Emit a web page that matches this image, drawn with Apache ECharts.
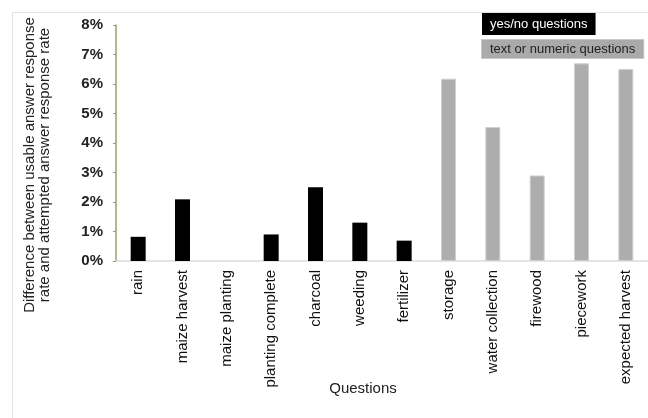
<!DOCTYPE html>
<html><head><meta charset="utf-8">
<script src="https://cdn.jsdelivr.net/npm/echarts@6/dist/echarts.min.js"></script>
<style>html,body{margin:0;padding:0;background:#fff}#c{width:648px;height:418px}</style>
</head><body><div id="c"></div>
<script>
const categories = ['rain','maize harvest','maize planting','planting complete','charcoal','weeding','fertilizer','storage','water collection','firewood','piecework','expected harvest'];
const yesNoValues = [0.82, 2.09, 0, 0.9, 2.5, 1.3, 0.69, null, null, null, null, null];
const textNumericValues = [null, null, null, null, null, null, null, 6.18, 4.54, 2.9, 6.7, 6.51];
const yTicks = [0, 1, 2, 3, 4, 5, 6, 7, 8];

const F = '"Liberation Sans", Arial, sans-serif';
const chart = echarts.init(document.getElementById('c'));
chart.setOption({
  animation: false,
  textStyle: { fontFamily: F },
  graphic: [{ type: 'rect', shape: { x: 12.5, y: 12.5, width: 700, height: 500 }, style: { fill: 'none', stroke: '#e2e2e2', lineWidth: 1 }, silent: true, z: -1 }],
  legend: {
    orient: 'vertical', left: 471, top: 8, itemGap: 4, itemWidth: 0, itemHeight: 0, icon: 'rect',
    selectedMode: false,
    data: [
      { name: 'yes/no questions', textStyle: { backgroundColor: '#000', color: '#fff', padding: [5, 8, 4, 8], fontSize: 13, fontFamily: F } },
      { name: 'text or numeric questions', textStyle: { backgroundColor: '#aaa', color: '#222', padding: [3, 8, 2, 8], fontSize: 13, fontFamily: F, borderColor: '#c8c8c8', borderWidth: 1 } }
    ]
  },
  grid: { left: 116, right: 0, top: 25, bottom: 157, outerBoundsMode: 'none', containLabel: false },
  xAxis: {
    type: 'category', data: categories,
    name: 'Questions', nameLocation: 'middle', nameGap: 120, nameMoveOverlap: false,
    nameTextStyle: { fontSize: 15, color: '#222', fontFamily: F, padding: [0, 38, 0, 0] },
    axisLine: { lineStyle: { color: '#dcdcdc', width: 1.5 } },
    axisTick: { show: false },
    axisLabel: { rotate: 90, interval: 0, margin: 9, fontSize: 15, color: '#111', fontFamily: F }
  },
  yAxis: {
    type: 'value', min: 0, max: 8, interval: 1,
    name: 'Difference between usable answer response\nrate and attempted answer response rate',
    nameLocation: 'middle', nameGap: 64, nameMoveOverlap: false,
    nameTextStyle: { fontSize: 15, color: '#222', fontFamily: F, lineHeight: 15, padding: [0, 44, 0, 0] },
    axisLine: { show: true, lineStyle: { color: '#98a06a', width: 1.5 } },
    axisTick: { show: true, length: 3, lineStyle: { color: '#98a06a' } },
    splitLine: { show: false },
    axisLabel: { formatter: v => yTicks.includes(v) ? v + '%' : '', fontSize: 15, fontWeight: 'bold', color: '#222', margin: 13, fontFamily: F }
  },
  series: [
    { name: 'yes/no questions', type: 'bar', stack: 'a', data: yesNoValues, barWidth: 15, itemStyle: { color: '#000' } },
    { name: 'text or numeric questions', type: 'bar', stack: 'a', data: textNumericValues, barWidth: 15, itemStyle: { color: '#adadad', borderColor: '#d0d0d0', borderWidth: 1 } }
  ]
});
</script></body></html>
